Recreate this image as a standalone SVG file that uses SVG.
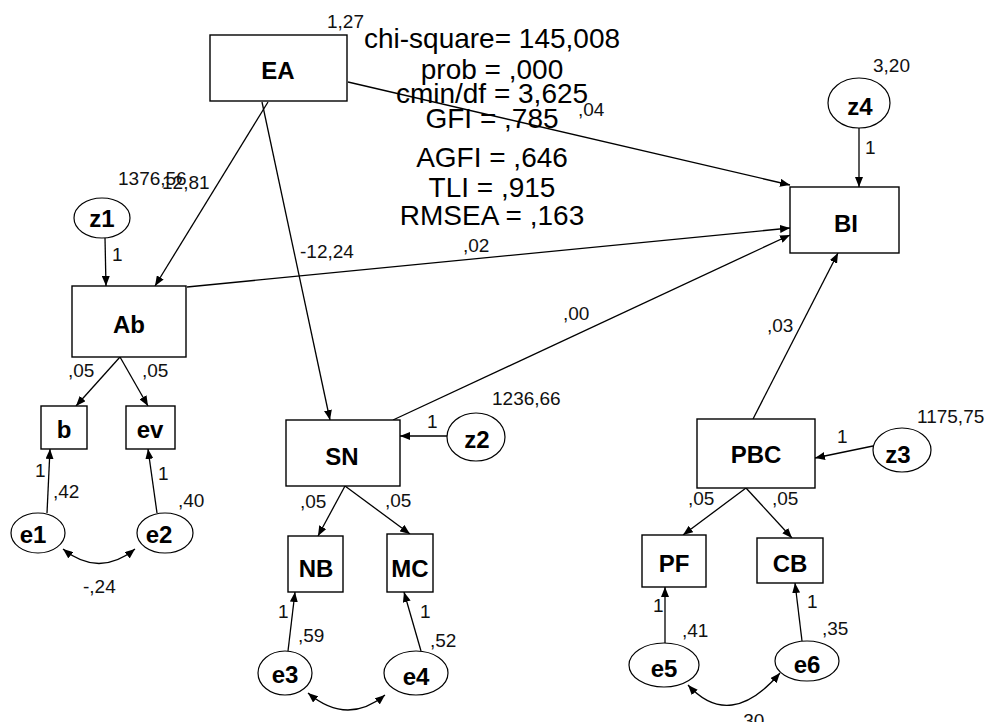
<svg xmlns="http://www.w3.org/2000/svg" width="995" height="722" viewBox="0 0 995 722">
<defs>
<marker id="ah" viewBox="0 0 10 8" refX="10" refY="4" markerWidth="10" markerHeight="8" markerUnits="userSpaceOnUse" orient="auto-start-reverse">
<path d="M0,0 L10,4 L0,8 z" fill="#000"/>
</marker>
<style>
.box{fill:#fff;stroke:#000;stroke-width:1.4}
.ell{fill:#fff;stroke:#000;stroke-width:1.2}
.nl{font-family:"Liberation Sans",Arial,sans-serif;font-weight:bold;font-size:24px;text-anchor:middle;fill:#000}
.sl{font-family:"Liberation Sans",Arial,sans-serif;font-size:19px;fill:#111}
.st{font-family:"Liberation Sans",Arial,sans-serif;font-size:28px;text-anchor:middle;fill:#000}
.cn{fill:none;stroke:#000;stroke-width:1.3;marker-end:url(#ah)}
.cv{fill:none;stroke:#000;stroke-width:1.3;marker-start:url(#ah);marker-end:url(#ah)}
</style>
</defs>
<rect width="995" height="722" fill="#fff"/>
<g id="connectors">
<line class="cn" x1="348" y1="82" x2="790" y2="185"/>
<line class="cn" x1="268" y1="102" x2="155" y2="286"/>
<line class="cn" x1="262" y1="102" x2="330" y2="420"/>
<line class="cn" x1="105" y1="238" x2="106" y2="286"/>
<line class="cn" x1="187" y1="287" x2="790" y2="228"/>
<line class="cn" x1="393" y1="420" x2="790" y2="235"/>
<line class="cn" x1="859" y1="128" x2="859" y2="187"/>
<line class="cn" x1="753" y1="419" x2="838" y2="253"/>
<line class="cn" x1="447" y1="436" x2="400" y2="436"/>
<line class="cn" x1="873" y1="446" x2="815" y2="458"/>
<line class="cn" x1="120" y1="357" x2="76" y2="406"/>
<line class="cn" x1="120" y1="357" x2="148" y2="406"/>
<line class="cn" x1="345" y1="486" x2="318" y2="536"/>
<line class="cn" x1="345" y1="486" x2="410" y2="534"/>
<line class="cn" x1="746" y1="488" x2="683" y2="535"/>
<line class="cn" x1="746" y1="488" x2="792" y2="538"/>
<line class="cn" x1="47" y1="513" x2="50" y2="449"/>
<line class="cn" x1="157" y1="513" x2="148" y2="449"/>
<line class="cn" x1="288" y1="651" x2="295" y2="592"/>
<line class="cn" x1="421" y1="651" x2="404" y2="592"/>
<line class="cn" x1="665" y1="643" x2="665" y2="587"/>
<line class="cn" x1="802" y1="641" x2="795" y2="583"/>
<path class="cv" d="M63,549 Q99,578 135,549"/>
<path class="cv" d="M308,693 Q347,726 385,695"/>
<path class="cv" d="M688,685 Q730,731 780,673"/>
</g>
<g id="EA"><rect class="box" x="210" y="35" width="137" height="66"/><text class="nl" x="278" y="79">EA</text></g>
<g id="Ab"><rect class="box" x="72" y="286" width="114" height="71"/><text class="nl" x="129" y="333">Ab</text></g>
<g id="BI"><rect class="box" x="790" y="187" width="109" height="66"/><text class="nl" x="846" y="232">BI</text></g>
<g id="SN"><rect class="box" x="286" y="420" width="114" height="66"/><text class="nl" x="342" y="465">SN</text></g>
<g id="PBC"><rect class="box" x="697" y="419" width="118" height="69"/><text class="nl" x="756" y="463">PBC</text></g>
<g id="b"><rect class="box" x="41" y="406" width="46" height="43"/><text class="nl" x="64" y="438">b</text></g>
<g id="ev"><rect class="box" x="126" y="406" width="49" height="43"/><text class="nl" x="150" y="438">ev</text></g>
<g id="NB"><rect class="box" x="288" y="536" width="55" height="56"/><text class="nl" x="316" y="577">NB</text></g>
<g id="MC"><rect class="box" x="387" y="534" width="46" height="58"/><text class="nl" x="410" y="577">MC</text></g>
<g id="PF"><rect class="box" x="642" y="535" width="64" height="52"/><text class="nl" x="674" y="572">PF</text></g>
<g id="CB"><rect class="box" x="757" y="538" width="66" height="45"/><text class="nl" x="790" y="572">CB</text></g>
<g id="z1"><ellipse class="ell" cx="102" cy="218" rx="28" ry="20"/><text class="nl" x="102" y="227">z1</text></g>
<g id="z2"><ellipse class="ell" cx="476" cy="437" rx="29" ry="24"/><text class="nl" x="477" y="448">z2</text></g>
<g id="z3"><ellipse class="ell" cx="902" cy="450" rx="29" ry="22"/><text class="nl" x="898" y="463">z3</text></g>
<g id="z4"><ellipse class="ell" cx="859" cy="103" rx="31" ry="25"/><text class="nl" x="860" y="115">z4</text></g>
<g id="e1"><ellipse class="ell" cx="38" cy="533" rx="27" ry="20"/><text class="nl" x="33" y="543">e1</text></g>
<g id="e2"><ellipse class="ell" cx="165" cy="533" rx="28" ry="20"/><text class="nl" x="159" y="543">e2</text></g>
<g id="e3"><ellipse class="ell" cx="285" cy="673" rx="27" ry="22"/><text class="nl" x="285" y="683">e3</text></g>
<g id="e4"><ellipse class="ell" cx="416" cy="673" rx="32" ry="22"/><text class="nl" x="416" y="685">e4</text></g>
<g id="e5"><ellipse class="ell" cx="664" cy="665" rx="35" ry="22"/><text class="nl" x="664" y="677">e5</text></g>
<g id="e6"><ellipse class="ell" cx="807" cy="661" rx="32" ry="20"/><text class="nl" x="807" y="673">e6</text></g>
<g id="fit-stats">
<text class="st" x="492" y="48">chi-square=  145,008</text>
<text class="st" x="492" y="79">prob = ,000</text>
<text class="st" x="492" y="103">cmin/df = 3,625</text>
<text class="st" x="492" y="128">GFI = ,785</text>
<text class="st" x="492" y="167">AGFI = ,646</text>
<text class="st" x="492" y="197">TLI = ,915</text>
<text class="st" x="492" y="225">RMSEA = ,163</text>
</g>
<g id="labels">
<text class="sl" x="327" y="28">1,27</text>
<text class="sl" x="578" y="116">,04</text>
<text class="sl" x="118" y="185">1376,56</text>
<text class="sl" x="162" y="189">12,81</text>
<text class="sl" x="112" y="261">1</text>
<text class="sl" x="300" y="258">-12,24</text>
<text class="sl" x="463" y="252">,02</text>
<text class="sl" x="563" y="320">,00</text>
<text class="sl" x="873" y="72">3,20</text>
<text class="sl" x="865" y="154">1</text>
<text class="sl" x="767" y="332">,03</text>
<text class="sl" x="427" y="428">1</text>
<text class="sl" x="492" y="405">1236,66</text>
<text class="sl" x="837" y="443">1</text>
<text class="sl" x="917" y="423">1175,75</text>
<text class="sl" x="68" y="377">,05</text>
<text class="sl" x="142" y="377">,05</text>
<text class="sl" x="300" y="508">,05</text>
<text class="sl" x="385" y="507">,05</text>
<text class="sl" x="688" y="505">,05</text>
<text class="sl" x="772" y="505">,05</text>
<text class="sl" x="35" y="477">1</text>
<text class="sl" x="53" y="498">,42</text>
<text class="sl" x="158" y="480">1</text>
<text class="sl" x="178" y="507">,40</text>
<text class="sl" x="83" y="593">-,24</text>
<text class="sl" x="278" y="618">1</text>
<text class="sl" x="298" y="642">,59</text>
<text class="sl" x="420" y="618">1</text>
<text class="sl" x="430" y="647">,52</text>
<text class="sl" x="653" y="612">1</text>
<text class="sl" x="682" y="637">,41</text>
<text class="sl" x="807" y="608">1</text>
<text class="sl" x="822" y="635">,35</text>
<text class="sl" x="738" y="727">,30</text>
</g>
</svg>
